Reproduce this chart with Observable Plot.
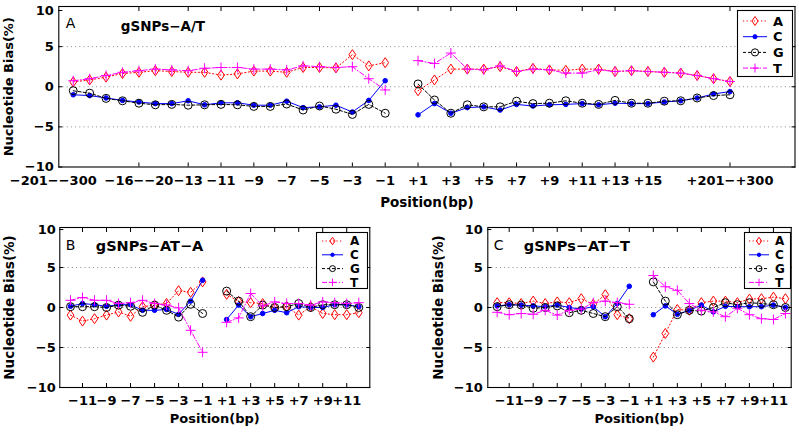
<!DOCTYPE html>
<html><head><meta charset="utf-8">
<script src="https://cdn.jsdelivr.net/npm/d3@7"></script>
<script src="https://cdn.jsdelivr.net/npm/@observablehq/plot@0.6"></script>
<style>
body{margin:0;background:#fff;}
#wrap{position:relative;width:799px;height:432px;overflow:hidden;background:#fff;}
#wrap > div{position:absolute;}
svg{overflow:visible;}
</style></head><body><div id="wrap"></div>
<script>
// ---------- Panel A: gSNPs-A/T ----------
const positionsA_left = ["−201−−300","−101−−200","−51−−100","−21−−50","−16−−20","−15","−14","−13","−12","−11","−10","−9","−8","−7","−6","−5","−4","−3","−2","−1"];
const positionsA_right = ["+1","+2","+3","+4","+5","+6","+7","+8","+9","+10","+11","+12","+13","+14","+15","+16−+20","+21−+50","+51−+100","+101−+200","+201−+300"];
const tickLabelsA = ["−201−−300","−16−−20","−13","−11","−9","−7","−5","−3","−1","+1","+3","+5","+7","+9","+11","+13","+15","+201−+300"];
const A_A = [0.6,0.85,1.2,1.65,1.8,2.0,1.9,1.8,1.8,1.45,1.6,1.95,1.95,1.8,2.4,2.4,2.35,4.0,2.6,3.0,
             -0.5,0.85,2.2,2.2,2.2,2.5,1.9,2.3,2.1,2.05,2.2,2.2,1.9,2.0,1.9,1.8,1.7,1.4,1.0,0.65];
const A_C = [-1.0,-1.1,-1.4,-1.7,-1.9,-2.1,-2.1,-1.75,-2.25,-2.0,-2.0,-2.3,-2.3,-1.8,-2.6,-2.5,-2.3,-3.15,-1.7,0.75,
             -3.5,-2.1,-3.3,-2.6,-2.5,-2.9,-2.2,-2.4,-2.25,-2.2,-2.1,-2.25,-2.05,-2.1,-2.1,-1.9,-1.75,-1.4,-0.9,-0.6];
const A_G = [-0.5,-0.8,-1.45,-1.75,-2.05,-2.25,-2.2,-2.3,-2.25,-2.2,-2.25,-2.45,-2.45,-2.15,-2.9,-2.4,-2.8,-3.45,-2.2,-3.3,
             0.35,-1.65,-3.3,-2.25,-2.5,-2.5,-1.8,-2.1,-2.05,-1.75,-2.05,-2.2,-1.7,-2.05,-2.05,-1.8,-1.75,-1.4,-1.1,-1.0];
const A_T = [0.75,1.0,1.4,1.8,2.0,2.2,2.1,2.0,2.3,2.4,2.4,2.2,2.2,2.1,2.6,2.5,2.4,2.5,1.0,-0.4,
             3.25,2.9,4.2,2.2,2.1,2.6,1.9,2.2,2.1,1.7,1.7,2.1,1.9,2.0,1.9,1.8,1.7,1.4,1.0,0.65];

// ---------- Panels B and C: positions -12..-1, +1..+12 ----------
const positionsBC_left = ["−12","−11","−10","−9","−8","−7","−6","−5","−4","−3","−2","−1"];
const positionsBC_right = ["+1","+2","+3","+4","+5","+6","+7","+8","+9","+10","+11","+12"];
const tickLabelsBC = ["−11","−9","−7","−5","−3","−1","+1","+3","+5","+7","+9","+11"];

const B_A = [-0.95,-1.7,-1.4,-0.95,-0.55,-1.1,0.1,0.3,0.5,2.1,1.9,3.2, 1.65,0.75,0.6,0.5,-0.05,0.1,-0.95,0.1,-0.75,-0.9,-0.9,-0.65];
const B_C = [0.15,0.5,0.35,0.15,0.35,0.35,-0.35,-0.35,-0.25,-0.85,0.8,3.4, -1.5,0.3,-1.15,-0.75,-0.35,-0.65,0.1,0,0,0.35,0.35,0.1];
const B_G = [0.1,0.1,0.1,0,0.3,0.15,-0.6,0.3,-0.35,-1.2,0.4,-0.75, 2.05,0.8,-1.15,0.3,0,0.1,0.5,0,0.35,0.35,0.35,0];
const B_T = [0.9,1.25,0.9,0.9,0.5,0.6,0.9,0.5,0.3,-0.05,-2.85,-5.6, -1.85,-1.3,1.75,0.2,0.7,0.5,0.5,0.3,0.7,0.6,0.5,0.6];

const C_A = [0.6,0.6,0.5,0.8,0.5,0.7,0.6,1.1,0.4,1.6,-0.9,-1.4, -6.2,-3.25,-0.25,-0.35,0.6,0.8,0.8,0.6,1.05,1.1,1.3,1.1];
const C_C = [0.2,0.35,0.3,0.2,0.1,0.3,0,-0.2,0.1,-1.15,0.5,2.65, -0.9,0.2,-0.85,-0.35,0.3,-0.55,0.15,0.1,0.1,0.1,0.3,0];
const C_G = [0.1,0.35,0.3,-0.1,0,0.2,-0.65,-0.35,-0.75,-1.15,0.1,-1.4, 3.2,0.8,-0.9,-0.35,-0.45,0,0.6,0.35,0.6,0.5,0.35,0];
const C_T = [-0.6,-0.9,-0.75,-0.85,-0.35,-0.95,-0.35,-0.2,0.6,0.8,0.6,0.4, 4.0,2.6,2.15,0.5,-0.35,-0.55,-1.15,-0.1,-0.9,-1.4,-1.5,-0.75];

const yTicks = [-10,-5,0,5,10];
const gridTicks = [-5,0,5];
const nucleotides = ["A","C","G","T"];

// ---------- styles ----------
const FONT = "'DejaVu Sans', Verdana, sans-serif";
const diamondSym = {draw(ctx, size){const r=Math.sqrt(size/Math.PI); ctx.moveTo(0,-r); ctx.lineTo(r*0.68,0); ctx.lineTo(0,r); ctx.lineTo(-r*0.68,0); ctx.closePath();}};
const plusSym = {draw(ctx, size){const r=Math.sqrt(size/Math.PI); ctx.moveTo(-r,0); ctx.lineTo(r,0); ctx.moveTo(0,-r); ctx.lineTo(0,r);}};
const circleSym = {draw(ctx, size){const r=Math.sqrt(size/Math.PI); ctx.moveTo(r,0); ctx.arc(0,0,r,0,2*Math.PI);}};
const sty = {
  A:{color:"#ff0000", dash:"1.2,2.4", symbol:diamondSym, r:5, fill:"none"},
  C:{color:"#0000ff", dash:null, symbol:circleSym, r:2.3, fill:"#0000ff"},
  G:{color:"#000000", dash:"3,2", symbol:circleSym, r:4, fill:"none"},
  T:{color:"#ff00ff", dash:"5,2,1,2", symbol:plusSym, r:5, fill:"none"}
};
const fmtY = d => d < 0 ? "−" + Math.abs(d) : String(d);

function panel(o) {
  const positions = [...o.left, ...o.right];
  const xOf = i => i < o.left.length ? i : i + 1; // one empty slot between -1 and +1
  const xTicks = o.tickLabels.map(l => xOf(positions.indexOf(l)));
  const labelOf = d => o.tickLabels[xTicks.indexOf(d)];
  const shifted = o.shiftFirst ? xTicks.slice(0,1) : [];
  const regular = o.shiftFirst ? xTicks.slice(1) : xTicks;
  const yTop = yTicks.filter(d => d === 10), yRest = yTicks.filter(d => d !== 10);
  const txt = {fontSize:o.tickFont, fontWeight:"bold", label:null};
  const marks = [
    Plot.gridY(gridTicks, {stroke:"#8a8a8a", strokeOpacity:1, strokeDasharray:"1,3.2", strokeWidth:1}),
    Plot.axisY(yRest, {anchor:"left", tickSize:-4, tickPadding:4+o.yGap, tickFormat:fmtY, ...txt}),
    Plot.axisY(yTop, {anchor:"left", tickSize:-4, tickPadding:4+o.yGap, tickFormat:fmtY, dy:o.topDy, ...txt}),
    Plot.axisY(yTicks, {anchor:"right", tickSize:-4, tickFormat:()=>"", label:null}),
    Plot.axisX(regular, {anchor:"bottom", tickSize:-4, tickPadding:4+o.xGap, tickFormat:labelOf, ...txt}),
    Plot.axisX(regular, {anchor:"top", tickSize:-4, tickFormat:()=>"", label:null})
  ];
  if (shifted.length) marks.push(Plot.axisX(shifted, {anchor:"bottom", tickSize:0, tickPadding:o.xGap, dx:o.firstDx, tickFormat:labelOf, ...txt}));
  const rowsBy = {};
  for (const n of nucleotides) {
    rowsBy[n] = o.series[n].map((v,i)=>({x:xOf(i), y:v, side: i < o.left.length ? "L" : "R"}));
  }
  for (const n of nucleotides) {
    const s = sty[n];
    marks.push(Plot.line(rowsBy[n], {x:"x", y:"y", z:"side", stroke:s.color, strokeWidth:1, strokeDasharray:s.dash}));
    marks.push(Plot.dot(rowsBy[n], {x:"x", y:"y", symbol:()=>s.symbol, r:s.r, stroke:s.color, fill:s.fill, strokeWidth:1}));
  }
  marks.push(Plot.frame({stroke:"black", strokeWidth:1.1}));
  marks.push(Plot.text([o.letter], {frameAnchor:"top-left", dx:o.letterDx, dy:o.letterDy, textAnchor:"start", lineAnchor:"middle", fontSize:o.letterFont, fontWeight:"normal"}));
  marks.push(Plot.text([o.title], {frameAnchor:"top-left", dx:o.titleDx, dy:o.titleDy, textAnchor:"start", lineAnchor:"middle", fontSize:o.titleFont, fontWeight:"bold"}));
  marks.push(Plot.text(["Nucleotide Bias(%)"], {frameAnchor:"left", dx:o.yLabelDx, rotate:-90, textAnchor:"middle", lineAnchor:"middle", fontSize:o.yLabelFont, fontWeight:"bold"}));
  marks.push(Plot.text(["Position(bp)"], {frameAnchor:"bottom", dy:o.xLabelDy, textAnchor:"middle", lineAnchor:"middle", fontSize:o.xLabelFont, fontWeight:"bold"}));
  return Plot.plot({
    width:o.width, height:o.height,
    marginLeft:o.ml, marginRight:o.mr, marginTop:o.mt, marginBottom:o.mb,
    x:{type:"linear", domain:o.xDomain},
    y:{type:"linear", domain:[-10,10]},
    style:{fontFamily:FONT, color:"black", background:"white", overflow:"visible"},
    marks
  });
}

function legend(o) {
  const svg = d3.create("svg").attr("width", o.w).attr("height", o.h)
    .style("font-family", FONT).style("overflow","visible");
  svg.append("rect").attr("x",0.5).attr("y",0.5).attr("width",o.w-1).attr("height",o.h-1)
    .attr("fill","white").attr("stroke","black").attr("stroke-width",1.1);
  nucleotides.forEach((n,i) => {
    const s = sty[n], y = o.y0 + i*o.dy;
    svg.append("line").attr("x1",o.lx0).attr("x2",o.lx1).attr("y1",y).attr("y2",y)
      .attr("stroke",s.color).attr("stroke-width",1).attr("stroke-dasharray",s.dash);
    const r = s.r*o.ms;
    svg.append("path").attr("transform",`translate(${(o.lx0+o.lx1)/2},${y})`)
      .attr("d", d3.symbol(s.symbol, Math.PI*r*r)()).attr("fill", s.fill).attr("stroke", s.color).attr("stroke-width",1);
    svg.append("text").attr("x",o.tx).attr("y",y).attr("dy","0.36em").attr("font-size",o.font)
      .attr("font-weight","bold").text(n);
  });
  return svg.node();
}

const wrap = document.getElementById("wrap");
function place(node, left, top) {
  const d = document.createElement("div");
  d.style.left = left + "px"; d.style.top = top + "px";
  d.appendChild(node); wrap.appendChild(d);
}

place(panel({
  width:799, height:212, ml:58.3, mr:4.5, mt:6, mb:45.5,
  xDomain:[-0.88, 43.96],
  left:positionsA_left, right:positionsA_right, tickLabels:tickLabelsA,
  shiftFirst:true, firstDx:-20,
  series:{A:A_A, C:A_C, G:A_G, T:A_T},
  letter:"A", title:"gSNPs−A/T",
  letterDx:7, letterDy:17, titleDx:62, titleDy:20,
  yLabelDx:-50, xLabelDy:35.5, yGap:5, xGap:9, topDy:4,
  tickFont:13, yLabelFont:13, xLabelFont:13.5, titleFont:13.5, letterFont:14
}), 0, 0);

place(panel({
  width:400, height:217, ml:59.3, mr:30.7, mt:12, mb:45,
  xDomain:[-0.89, 24.92],
  left:positionsBC_left, right:positionsBC_right, tickLabels:tickLabelsBC,
  series:{A:B_A, C:B_C, G:B_G, T:B_T},
  letter:"B", title:"gSNPs−AT−A",
  letterDx:6, letterDy:18, titleDx:36, titleDy:19,
  yLabelDx:-50, xLabelDy:31.5, yGap:4, xGap:8, topDy:2,
  tickFont:13, yLabelFont:13.5, xLabelFont:13, titleFont:14.5, letterFont:14
}), 0, 215);

place(panel({
  width:399, height:217, ml:87.3, mr:8.3, mt:12, mb:45,
  xDomain:[-0.78, 24.48],
  left:positionsBC_left, right:positionsBC_right, tickLabels:tickLabelsBC,
  series:{A:C_A, C:C_C, G:C_G, T:C_T},
  letter:"C", title:"gSNPs−AT−T",
  letterDx:6, letterDy:18, titleDx:36, titleDy:19,
  yLabelDx:-49, xLabelDy:31.5, yGap:5, xGap:8, topDy:2,
  tickFont:13, yLabelFont:13.5, xLabelFont:13, titleFont:14.5, letterFont:14
}), 400, 215);

place(legend({w:56, h:67, y0:11, dy:15.7, lx0:6, lx1:30, tx:36, font:13, ms:0.9}), 737, 10);
place(legend({w:52, h:57, y0:9, dy:13.8, lx0:6, lx1:27, tx:34, font:12, ms:0.75}), 316, 232);
place(legend({w:47, h:57, y0:9, dy:13.8, lx0:5, lx1:25, tx:31, font:12, ms:0.75}), 744, 232);
</script></body></html>
